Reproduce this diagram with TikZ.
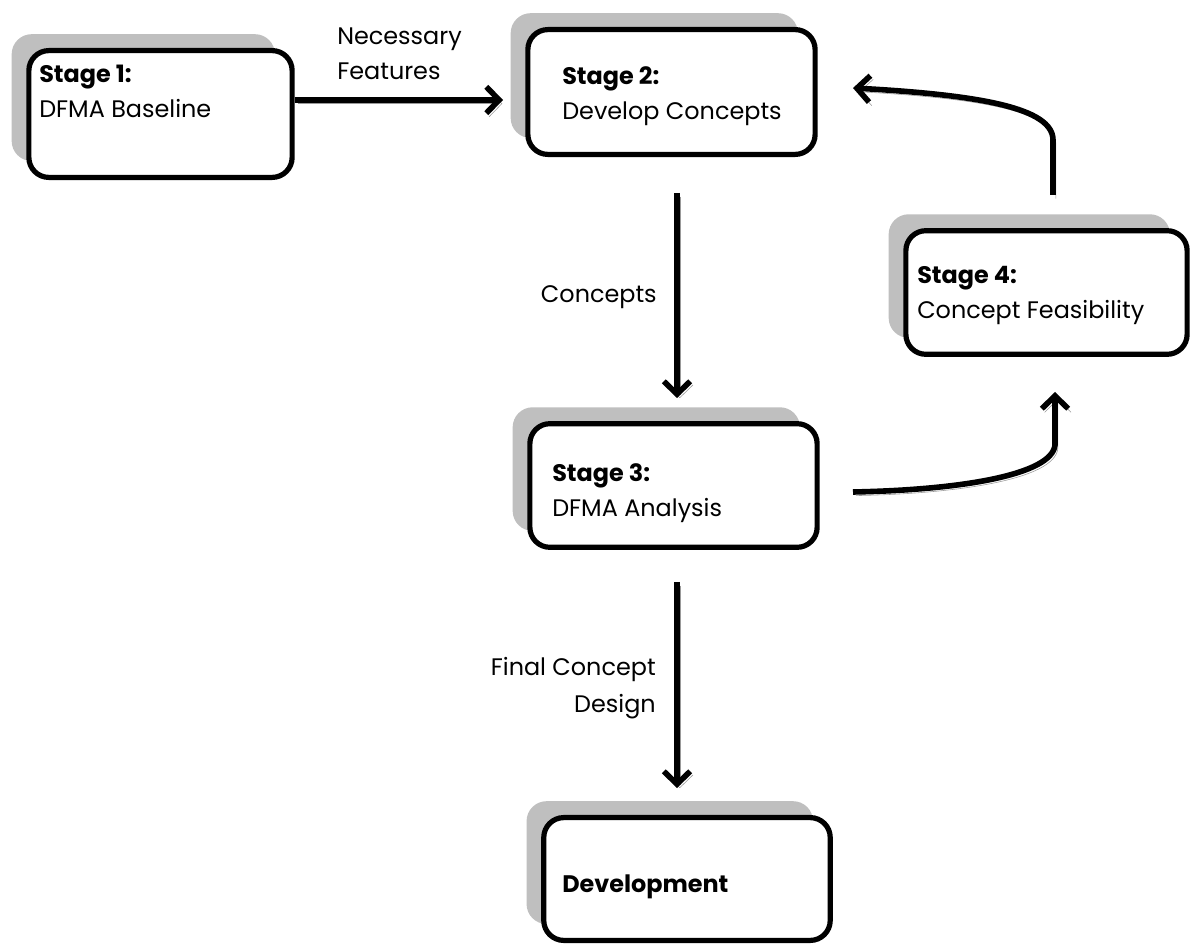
\documentclass[tikz,border=0pt]{standalone}
\usepackage{fontspec}
\setmainfont{Poppins}
\usetikzlibrary{arrows.meta,shadows}

\tikzset{
  stagebox/.style={draw, line width=0.13cm, rounded corners=0.5cm, fill=white,
    drop shadow={shadow xshift=-0.43cm, shadow yshift=0.41cm, fill=black!25, opacity=1}},
  flow/.style={line width=0.14cm, -{Straight Barb[length=0.32cm,width=0.66cm]},
    preaction={draw=black!40, transform canvas={xshift=0.07cm,yshift=-0.09cm}}},
  lbl/.style={inner sep=0, anchor=base west},
  head/.style={lbl, font=\bfseries},
}

\begin{document}
\fontsize{17}{21}\selectfont
\begin{tikzpicture}[x=0.025cm, y=-0.025cm]
    \useasboundingbox (0,0) rectangle (1192,944);
    % stage boxes
    \node[stagebox, minimum width=6.58cm, minimum height=3.17cm] (s1) at (160.5,114) {};
    \node[stagebox, minimum width=7.18cm, minimum height=3.12cm] (s2) at (671.5,92) {};
    \node[stagebox, minimum width=7.18cm, minimum height=3.09cm] (s3) at (673.5,485.5) {};
    \node[stagebox, minimum width=7.03cm, minimum height=3.09cm] (s4) at (1046.5,292.5) {};
    \node[stagebox, minimum width=7.16cm, minimum height=3.07cm] (dev) at (687,879) {};
    % box texts
    \node[head] (s1h) at (39,83) {Stage 1:};
    \node[lbl] (s1t) at (39,118) {DFMA Baseline};
    \node[head] (s2h) at (562,85) {Stage 2:};
    \node[lbl] (s2t) at (562,120) {Develop Concepts};
    \node[head] (s3h) at (552,482) {Stage 3:};
    \node[lbl] (s3t) at (552,517) {DFMA Analysis};
    \node[head] (s4h) at (917,284) {Stage 4:};
    \node[lbl] (s4t) at (917,319) {Concept Feasibility};
    \node[head] (devh) at (562,892) {Development};
    % arrow labels
    \node[lbl] (nec1) at (337,45) {Necessary};
    \node[lbl] (nec2) at (337,80) {Features};
    \node[lbl, anchor=base east] (con) at (657,303) {Concepts};
    \node[lbl, anchor=base east] (fin1) at (656,675) {Final Concept};
    \node[lbl, anchor=base east] (fin2) at (656,712) {Design};
    % arrows
    \coordinate (a1) at (503,100);
    \coordinate (a2s) at (677,193);
    \coordinate (a2e) at (677,398);
    \coordinate (a3s) at (677,582);
    \coordinate (a3e) at (677,788);
    \coordinate (a4s) at (853,492);
    \coordinate (a4e) at (1055,392);
    \coordinate (a5s) at (1053,195);
    \coordinate (a5e) at (853,88);
    \draw[flow] (s1.east |- a1) -- (a1);
    \draw[flow] (a2s) -- (a2e);
    \draw[flow] (a3s) -- (a3e);
    \draw[flow] (a4s) .. controls (960,490) and (1052,475) .. (1055,445) -- (a4e);
    \draw[flow] (a5s) -- (1053,140) .. controls (1053,108) and (980,95) .. (a5e);
\end{tikzpicture}
\end{document}
